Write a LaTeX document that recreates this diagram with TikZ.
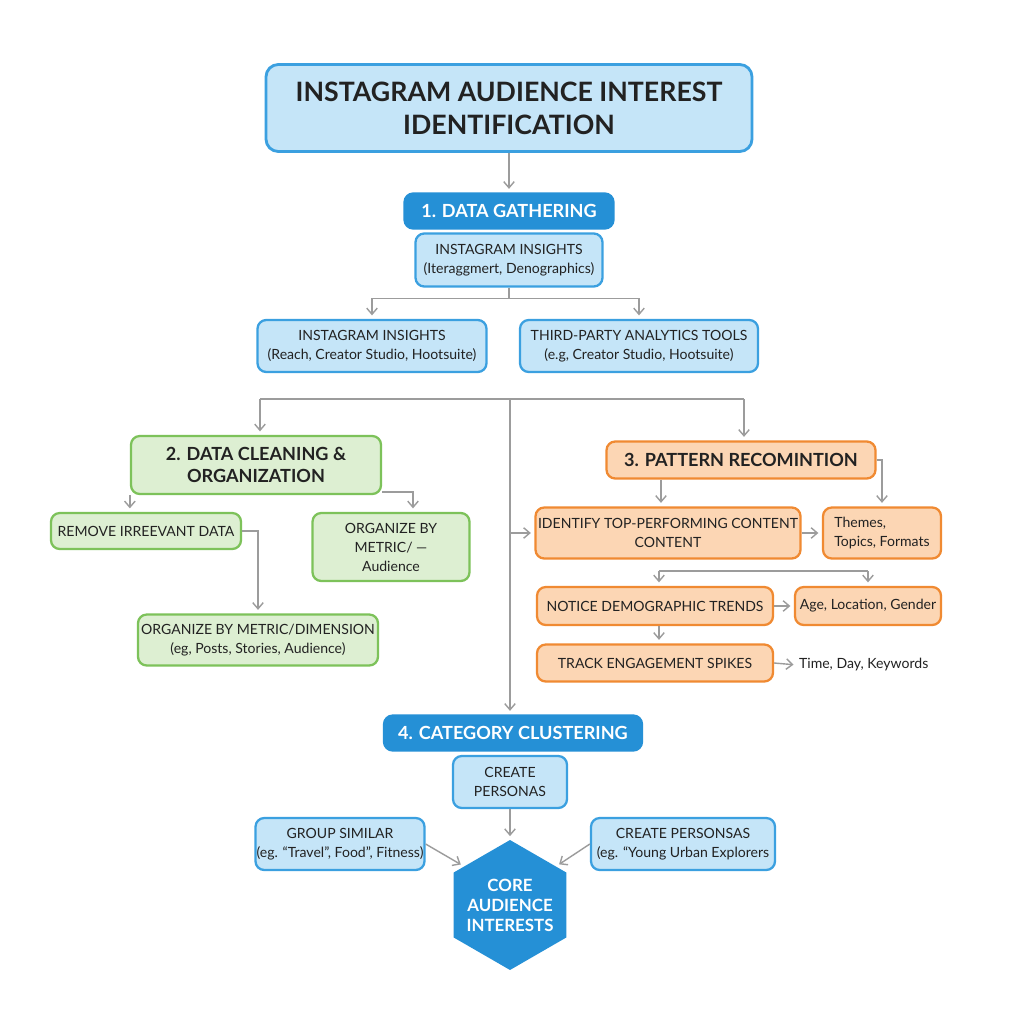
\documentclass[tikz,border=0pt]{standalone}
\usepackage{fontspec}
\setmainfont{Lato}
\usetikzlibrary{arrows.meta,shapes.geometric}

\definecolor{lightblue}{HTML}{C5E5F8}
\definecolor{boxblue}{HTML}{3BA0E0}
\definecolor{darkblue}{HTML}{2590D6}
\definecolor{lightgreen}{HTML}{DDEFD2}
\definecolor{boxgreen}{HTML}{7DC25A}
\definecolor{lightorange}{HTML}{FCD6B4}
\definecolor{boxorange}{HTML}{F08A32}
\definecolor{linegray}{HTML}{9C9C9C}
\definecolor{inkdark}{HTML}{222222}

\tikzset{
  sz/.style 2 args={minimum width=#1*0.02cm, minimum height=#2*0.02cm},
  bodyfont/.style={font=\fontsize{8}{10.8}\selectfont},
  basebox/.style={rounded corners=5pt, line width=1.3pt, align=center,
    inner sep=0pt, text=inkdark, bodyfont},
  bluebox/.style={basebox, draw=boxblue, fill=lightblue},
  greenbox/.style={basebox, draw=boxgreen, fill=lightgreen},
  orangebox/.style={basebox, draw=boxorange, fill=lightorange},
  headfont/.style={font=\fontsize{10.3}{12.6}\selectfont\bfseries},
  stephead/.style={basebox, draw=darkblue, fill=darkblue, text=white, headfont},
  titlebox/.style={bluebox, line width=1.6pt, rounded corners=7pt,
    font=\fontsize{15.2}{18.8}\selectfont\bfseries},
  arr/.style={draw=linegray, line width=0.8pt, shorten >=2pt,
    -{Straight Barb[length=3.5pt,width=6pt]}},
  ln/.style={draw=linegray, line width=0.8pt}
}

\begin{document}
\begin{tikzpicture}[x=0.02cm, y=-0.02cm]
    % The page
    \fill[white] (0,0) rectangle (1024,1024);
    \useasboundingbox (0,0) rectangle (1024,1024);

    % The top box
    \node[titlebox, sz={486}{87}] (title) at (509,108)
        {INSTAGRAM AUDIENCE INTEREST\\IDENTIFICATION};

    % Step 1
    \node[stephead, sz={209}{35}] (gather) at (509,211) {1. DATA GATHERING};
    \node[bluebox, sz={187}{53}] (insight) at (509,260)
        {INSTAGRAM INSIGHTS\\(Iteraggmert, Denographics)};
    \node[bluebox, sz={229}{52}] (igins) at (372,346)
        {INSTAGRAM INSIGHTS\\(Reach, Creator Studio, Hootsuite)};
    \node[bluebox, sz={238}{52}] (third) at (639,346)
        {THIRD-PARTY ANALYTICS TOOLS\\(e.g, Creator Studio, Hootsuite)};

    \draw[arr] (title) -- (gather);
    \draw[ln] (insight.south) -- ++(0,11) coordinate (split);
    \draw[arr] (split) -| (igins.north);
    \draw[arr] (split) -| (third.north);

    % The bar under the tools
    \coordinate (barL) at (260,399);
    \coordinate (barM) at (510,399);
    \coordinate (barR) at (744,399);
    \draw[ln] (barL) -- (barR);

    % Step 2
    \node[greenbox, headfont, sz={250}{58}] (clean) at (256,465)
        {2. DATA CLEANING \&\\ORGANIZATION};
    \node[greenbox, sz={190}{36}] (remove) at (146,531) {REMOVE IRREEVANT DATA};
    \node[greenbox, sz={157}{68}] (orgshort) at (391,547)
        {ORGANIZE BY\\METRIC/ —\\Audience};
    \node[greenbox, sz={240}{51}] (orgdim) at (258,640)
        {ORGANIZE BY METRIC/DIMENSION\\(eg, Posts, Stories, Audience)};

    \draw[arr] (barL) -- (clean.north -| barL);
    \draw[arr] (clean.south west) -- (remove.north -| clean.south west);
    \draw[arr] ([yshift=0.06cm]clean.south east) -| ([xshift=0.44cm]orgshort.north);
    \draw[arr] (remove.east) -| (orgdim.north);

    % Step 3
    \node[orangebox, headfont, sz={269}{37}] (pattern) at (741,460)
        {3. PATTERN RECOMINTION};
    \node[orangebox, sz={265}{51}] (topcont) at (668,533)
        {IDENTIFY TOP-PERFORMING CONTENT\\CONTENT};
    \node[orangebox, sz={118}{51}, align=left] (themes) at (882,533)
        {Themes,\\Topics, Formats};
    \node[orangebox, sz={236}{38}] (demo) at (655,606) {NOTICE DEMOGRAPHIC TRENDS};
    \node[orangebox, sz={146}{38}] (age) at (868,606) {Age, Location, Gender};
    \node[orangebox, sz={236}{37}] (spikes) at (655,663) {TRACK ENGAGEMENT SPIKES};
    \node[text=inkdark, bodyfont, anchor=west, inner sep=1pt]
        (times) at (797,665) {Time, Day, Keywords};

    \draw[arr] (barR) -- (pattern.north -| barR);
    \draw[arr] (barM |- topcont.west) -- (topcont.west);
    \draw[arr] ([xshift=-0.14cm]pattern.south -| topcont.north)
        -- ([xshift=-0.14cm]topcont.north);
    \draw[arr] (pattern.east) -| (themes.north);
    \draw[arr] (topcont) -- (themes);

    \coordinate (barD) at (659,571);
    \coordinate (barE) at (868,571);
    \draw[ln] (barD) -- (barE);
    \draw[arr] (barD) -- (demo.north -| barD);
    \draw[arr] (barE) -- (age.north);
    \draw[arr] (demo) -- (age);
    \draw[arr] (demo.south -| barD) -- (spikes.north -| barD);
    \draw[arr] (spikes.east) -- (times.west);

    % Step 4
    \node[stephead, sz={258}{35}] (cluster) at (513,733) {4. CATEGORY CLUSTERING};
    \node[bluebox, sz={114}{52}] (personas) at (510,782) {CREATE\\PERSONAS};
    \node[regular polygon, regular polygon sides=6, shape border rotate=30,
        minimum size=2.6cm, inner sep=0pt, fill=darkblue] (core) at (510,905) {};
    \node[text=white, align=center, font=\fontsize{9.6}{11.4}\selectfont\bfseries]
        (coretext) at (core) {CORE\\AUDIENCE\\INTERESTS};
    \node[bluebox, sz={169}{52}] (group) at (340,844)
        {GROUP SIMILAR\\(eg. “Travel”, Food”, Fitness)};
    \node[bluebox, sz={184}{52}] (personsas) at (683,844)
        {CREATE PERSONSAS\\(eg. “Young Urban Explorers};

    \draw[arr] (barM) -- (cluster.north -| barM);
    \draw[arr] (personas) -- (core);
    \draw[arr] (group.east) -- (core.140);
    \draw[arr] (personsas.west) -- (core.40);
\end{tikzpicture}
\end{document}
